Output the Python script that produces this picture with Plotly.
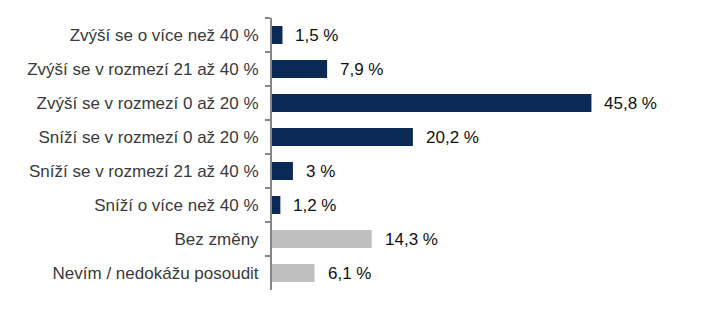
import plotly.graph_objects as go

categories = [
    "Zvýší se o více než 40 %",
    "Zvýší se v rozmezí 21 až 40 %",
    "Zvýší se v rozmezí 0 až 20 %",
    "Sníží se v rozmezí 0 až 20 %",
    "Sníží se v rozmezí 21 až 40 %",
    "Sníží o více než 40 %",
    "Bez změny",
    "Nevím / nedokážu posoudit",
]
values = [1.5, 7.9, 45.8, 20.2, 3, 1.2, 14.3, 6.1]
labels = ["1,5 %", "7,9 %", "45,8 %", "20,2 %", "3 %", "1,2 %", "14,3 %", "6,1 %"]
NAVY = "#0b2a55"
GRAY = "#bfbfbf"
colors = [NAVY] * 6 + [GRAY] * 2

fig = go.Figure()
fig.add_trace(go.Bar(
    y=categories, x=values, orientation="h",
    marker=dict(color=colors, line=dict(width=0)),
    hoverinfo="skip",
))
for c, v, t in zip(categories, values, labels):
    fig.add_annotation(x=v, y=c, text=t, showarrow=False, xanchor="left",
                       xshift=11, font=dict(size=17, color="#111111",
                                            family="Liberation Sans, Arial, sans-serif"))

fig.update_layout(
    width=713, height=323,
    margin=dict(l=272, r=3, t=18, b=33),
    paper_bgcolor="white", plot_bgcolor="white",
    bargap=0.47, showlegend=False,
    font=dict(family="Liberation Sans, Arial, sans-serif", size=17, color="#3a3a3a"),
)
fig.update_yaxes(
    autorange="reversed", type="category",
    showline=True, linecolor="#868686", linewidth=2,
    ticks="outside", tickson="boundaries", ticklen=5, tickcolor="#868686", tickwidth=2,
    showgrid=False, ticklabelstandoff=8,
)
fig.update_xaxes(range=[0, 62.8], visible=False, showgrid=False, zeroline=False)

fig.write_html("out.html")
